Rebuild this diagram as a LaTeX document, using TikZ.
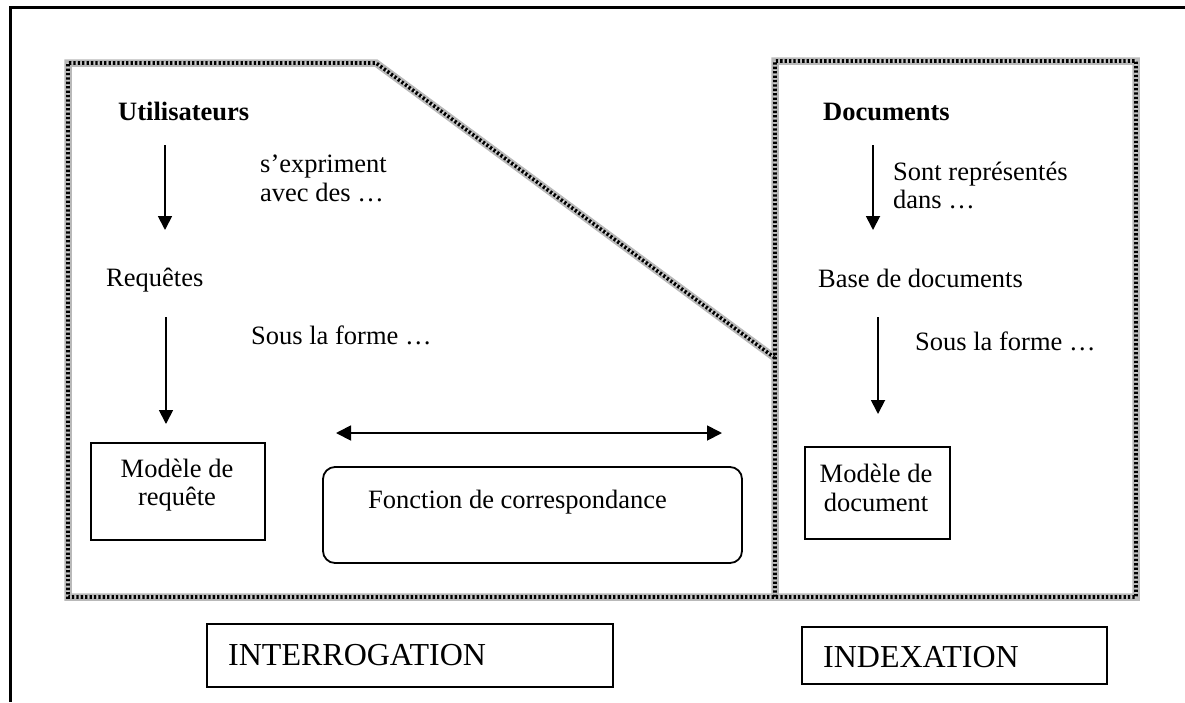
\documentclass[tikz,border=0pt]{standalone}
\usepackage{fontspec}
\setmainfont{Liberation Serif}
\usetikzlibrary{arrows.meta}
\begin{document}
\begin{tikzpicture}[x=1pt,y=-1pt,
  txt/.style={inner sep=0pt, anchor=base west, font=\fontsize{26.5}{30.5}\selectfont},
  big/.style={inner sep=0pt, anchor=base west, font=\fontsize{32}{36}\selectfont},
  two/.style={inner sep=0pt, align=center, font=\fontsize{26.5}{28.5}\selectfont},
  box/.style={draw, line width=1.8pt, inner sep=0pt},
  rbox/.style={box, rounded corners=12pt},
  arr/.style={line width=1.8pt, -{Triangle[length=14pt,width=14pt]}},
  darr/.style={line width=1.8pt, {Triangle[length=15pt,width=15pt]}-{Triangle[length=15pt,width=15pt]}},
  band/.style={line width=3.6pt, black, dash pattern=on 2.3pt off 2.1pt, line join=miter,
    preaction={draw, solid, gray!55, line width=7.5pt, line join=miter},
    postaction={draw, white, line width=0.8pt, dash pattern=on 1pt off 3.4pt, dash phase=-2.6pt}}]
\useasboundingbox (0,0) rectangle (1185,702);

% outer frame (top and left sides only)
\draw[line width=3pt] (1185,7) -- (10,7) -- (10,702);

% patterned borders of the two zones
\draw[band] (775,597) -- (775,61) -- (1136,61) -- (1136,597) -- (68,597)
  -- (68,63) -- (376,63) -- (775,358);

% left zone: query side
\node[txt] (util) at (118,120) {\bfseries Utilisateurs};
\node[txt] (expr) at (260,172) {s’expriment};
\node[txt] (avec) at (260,201) {avec des …};
\node[txt] (req) at (106,286) {Requêtes};
\node[txt] (sous1) at (251,344) {Sous la forme …};
\node[box, minimum width=174pt, minimum height=97pt] (mreq) at (178,491.5) {};
\node[two] (mreqtxt) at (177,485) {Modèle de\\requête};

\coordinate (a1s) at (165,145);
\coordinate (a1e) at (165,230);
\coordinate (a2s) at (166,317);
\coordinate (a2e) at (166,424);
\draw[arr] (a1s) -- (a1e);
\draw[arr] (a2s) -- (a2e);

% matching function
\coordinate (ml) at (336,433);
\coordinate (mr) at (722,433);
\draw[darr] (ml) -- (mr);
\node[rbox, minimum width=419pt, minimum height=96pt] (fonc) at (532.5,515) {};
\node[txt] (fonctxt) at (368,508) {Fonction de correspondance};

% right zone: document side
\node[txt] (docs) at (823,120) {\bfseries Documents};
\node[txt] (sont) at (893,180) {Sont représentés};
\node[txt] (dans) at (893,208) {dans …};
\node[txt] (base) at (818,287) {Base de documents};
\node[txt] (sous2) at (915,350) {Sous la forme …};
\node[box, minimum width=145pt, minimum height=92pt] (mdoc) at (877.5,493) {};
\node[two] (mdoctxt) at (876,488) {Modèle de\\document};

\coordinate (a3s) at (873,145);
\coordinate (a3e) at (873,230);
\coordinate (a4s) at (878,317);
\coordinate (a4e) at (878,414);
\draw[arr] (a3s) -- (a3e);
\draw[arr] (a4s) -- (a4e);

% zone titles
\node[box, minimum width=406pt, minimum height=63pt] (interro) at (410,655.5) {};
\node[big] (interrotxt) at (228,665) {INTERROGATION};
\node[box, minimum width=305pt, minimum height=57pt] (index) at (954.5,655.5) {};
\node[big] (indextxt) at (823,667) {INDEXATION};
\end{tikzpicture}
\end{document}
